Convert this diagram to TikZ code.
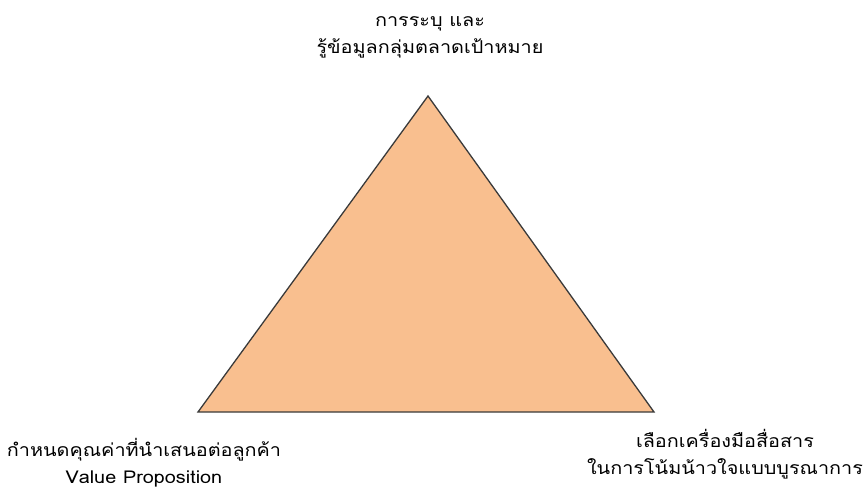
\documentclass[tikz,border=0pt]{standalone}
\usepackage{fontspec}
\newfontfamily\thaifont[Script=Thai,FakeStretch=1.12]{Loma}
\definecolor{tri}{HTML}{F9BF8F}
\definecolor{edge}{HTML}{3A3A3A}
\begin{document}
\begin{tikzpicture}[x=1pt,y=-1pt,
  lbl/.style={align=center,font=\thaifont\fontsize{17.7}{27}\selectfont,text=black,inner sep=0pt}]
\useasboundingbox (0,0) rectangle (868,491);
\coordinate (A) at (428,96);
\coordinate (B) at (198,412);
\coordinate (C) at (654,412);
\filldraw[fill=tri,draw=edge,line width=1.3pt,line join=miter] (A) -- (B) -- (C) -- cycle;
\node[lbl] (top) at (430,37) {การระบุ และ\\รู้ข้อมูลกลุ่มตลาดเป้าหมาย};
\node[lbl] (left) at (144,463) {กำหนดคุณค่าที่นำเสนอต่อลูกค้า\\Value Proposition};
\node[lbl] (right) at (725,454) {เลือกเครื่องมือสื่อสาร\\ในการโน้มน้าวใจแบบบูรณาการ};
\end{tikzpicture}
\end{document}
